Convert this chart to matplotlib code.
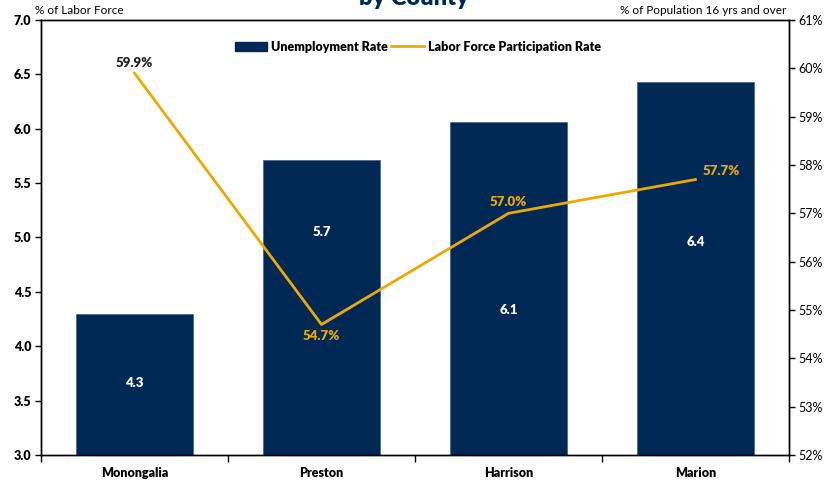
import numpy as np
import matplotlib.pyplot as plt
from matplotlib.ticker import FuncFormatter
from matplotlib.patches import Patch
from matplotlib.lines import Line2D

plt.rcParams['font.family'] = ['Lato', 'DejaVu Sans']

counties = ['Monongalia', 'Preston', 'Harrison', 'Marion']
unemployment = [4.3, 5.71, 6.06, 6.43]
participation = [59.9, 54.7, 57.0, 57.7]
# where each bar label sits inside its bar (left axis units)
bar_label_y = [3.66, 5.05, 4.33, 4.96]

navy = '#002855'
gold = '#EBAA00'

fig = plt.figure(figsize=(8.27, 4.83), dpi=100)
ax = fig.add_axes([0.0496, 0.058, 0.9044, 0.9006])
ax2 = ax.twinx()

x = np.arange(len(counties))
ax.bar(x, unemployment, width=0.625, color=navy, edgecolor='#4a6a90', linewidth=0.6, zorder=2)
for xi, v, ly in zip(x, unemployment, bar_label_y):
    ax.text(xi, ly, f'{v:.1f}', color='white', ha='center', va='center',
            fontsize=9.5, fontweight='heavy', zorder=3)

ax.set_xlim(-0.5, len(counties) - 0.5)
ax.set_ylim(3.0, 7.0)
ax.set_yticks(np.arange(3.0, 7.01, 0.5))
ax.yaxis.set_major_formatter(FuncFormatter(lambda v, p: f'{v:.1f}'))
for t in ax.get_yticklabels():
    t.set_fontweight('heavy')
ax.tick_params(axis='y', labelsize=9, length=4, width=1, pad=3)

# category boundaries as ticks, names as minor labels
ax.set_xticks(np.arange(-0.5, len(counties), 1.0))
ax.set_xticklabels([])
ax.set_xticks(x, minor=True)
ax.set_xticklabels(counties, minor=True, fontsize=9, fontweight='heavy')
ax.tick_params(axis='x', which='major', length=5, width=1)
ax.tick_params(axis='x', which='minor', length=0, pad=9)

ax2.plot(x, participation, color=gold, linewidth=2, zorder=4)
ax2.set_ylim(52, 61)
ax2.set_yticks(np.arange(52, 61.1, 1))
ax2.yaxis.set_major_formatter(FuncFormatter(lambda v, p: f'{v:.0f}%'))
ax2.tick_params(axis='y', labelsize=9, length=4, width=1, pad=3)

lbl = dict(fontsize=9.5, fontweight='heavy')
ax2.annotate(f'{participation[0]:.1f}%', (x[0], participation[0]), xytext=(0, 3),
             textcoords='offset points', ha='center', va='bottom', color='#222222', **lbl)
ax2.annotate(f'{participation[1]:.1f}%', (x[1], participation[1]), xytext=(0, -4),
             textcoords='offset points', ha='center', va='top', color=gold, **lbl)
ax2.annotate(f'{participation[2]:.1f}%', (x[2], participation[2]), xytext=(0, 4),
             textcoords='offset points', ha='center', va='bottom', color=gold, **lbl)
ax2.annotate(f'{participation[3]:.1f}%', (x[3], participation[3]), xytext=(5, 2),
             textcoords='offset points', ha='left', va='bottom', color=gold, **lbl)

for a in (ax, ax2):
    for s in a.spines.values():
        s.set_linewidth(1)
        s.set_color('black')

handles = [Patch(facecolor=navy, edgecolor=navy),
           Line2D([0], [0], color=gold, linewidth=2)]
fig.legend(handles, ['Unemployment Rate', 'Labor Force Participation Rate'],
           loc='center', bbox_to_anchor=(0.505, 0.903), ncol=2, frameon=False,
           prop={'size': 9, 'weight': 'heavy'}, handlelength=2.6, handleheight=0.7,
           columnspacing=0.3, handletextpad=0.3)

fig.text(0.042, 0.978, '% of Labor Force', fontsize=8.5, ha='left', va='center')
fig.text(0.951, 0.978, '% of Population 16 yrs and over', fontsize=8.5, ha='right', va='center')
fig.text(0.5, 0.99, 'by County', fontsize=17, fontweight='heavy', color=navy,
         ha='center', va='baseline')

fig.savefig('out.png', dpi=100)
